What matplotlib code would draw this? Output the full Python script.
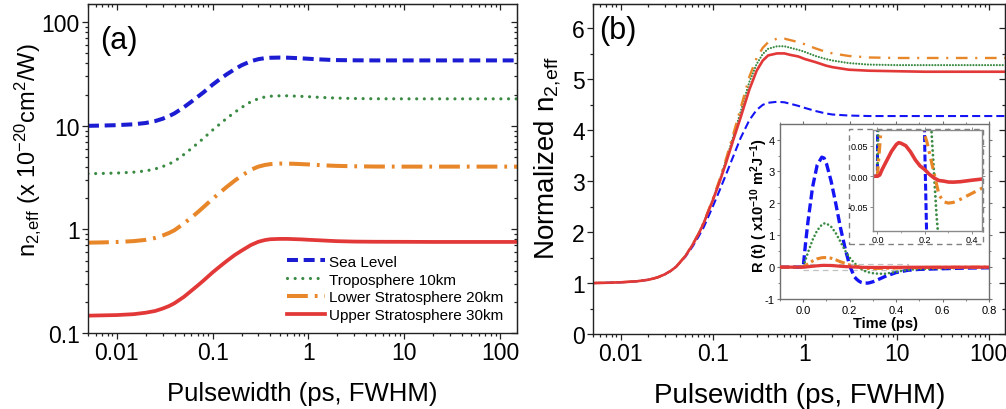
import matplotlib
matplotlib.use("Agg")
import matplotlib.pyplot as plt
from matplotlib.patches import Rectangle
from matplotlib.ticker import (LogLocator, MultipleLocator, NullFormatter,
                               FormatStrFormatter)

plt.rcParams['font.family'] = ['Liberation Sans', 'DejaVu Sans']
plt.rcParams['mathtext.fontset'] = 'custom'
plt.rcParams['mathtext.rm'] = 'Liberation Sans'
plt.rcParams['mathtext.it'] = 'Liberation Sans:italic'
plt.rcParams['mathtext.bf'] = 'Liberation Sans:bold'
plt.rcParams['axes.unicode_minus'] = False
plt.rcParams['lines.scale_dashes'] = False

# ---------------- data ----------------
labels = ["Sea Level", "Troposphere 10km", "Lower Stratosphere 20km",
          "Upper Stratosphere 30km"]

pulsewidth = [0.005, 0.007, 0.01, 0.015, 0.02, 0.025, 0.03, 0.035, 0.04,
              0.05, 0.06, 0.07, 0.08, 0.1, 0.12, 0.14, 0.17, 0.2, 0.25, 0.3,
              0.35, 0.4, 0.5, 0.6, 0.7, 0.85, 1, 1.3, 1.7, 2, 3, 5, 10, 20,
              50, 150]

# effective n2 (x1e-20 cm^2/W)
n2_sea = [10.0, 10.06, 10.15, 10.35, 10.65, 11.1, 11.7, 12.4, 13.2, 15.1,
          17.1, 19.1, 21.0, 25.0, 28.4, 31.4, 35.2, 38.4, 42.0, 44.0, 45.0,
          45.4, 45.6, 45.5, 45.2, 44.8, 44.4, 43.8, 43.3, 43.1, 42.9, 42.8,
          42.8, 42.8, 42.8, 42.8]
n2_tropo = [3.45, 3.47, 3.50, 3.57, 3.67, 3.83, 4.04, 4.28, 4.55, 5.28,
            6.04, 6.80, 7.56, 9.11, 10.49, 11.80, 13.52, 15.01, 17.08, 18.29,
            18.98, 19.32, 19.49, 19.49, 19.39, 19.25, 19.11, 18.84, 18.63,
            18.53, 18.35, 18.25, 18.22, 18.22, 18.22, 18.22]
n2_lower = [0.745, 0.749, 0.756, 0.771, 0.793, 0.827, 0.872, 0.924, 0.983,
            1.140, 1.304, 1.468, 1.639, 1.974, 2.280, 2.570, 2.958, 3.293,
            3.762, 4.038, 4.187, 4.269, 4.321, 4.321, 4.299, 4.269, 4.239,
            4.179, 4.127, 4.105, 4.068, 4.045, 4.038, 4.038, 4.038, 4.038]
n2_upper = [0.147, 0.148, 0.149, 0.152, 0.157, 0.163, 0.172, 0.182, 0.194,
            0.223, 0.256, 0.288, 0.320, 0.385, 0.442, 0.495, 0.566, 0.623,
            0.706, 0.760, 0.789, 0.804, 0.810, 0.810, 0.806, 0.801, 0.794,
            0.785, 0.775, 0.770, 0.763, 0.760, 0.759, 0.757, 0.757, 0.757]

# normalized n2,eff
norm_sea = [1.0, 1.006, 1.015, 1.035, 1.065, 1.11, 1.17, 1.24, 1.32, 1.51,
            1.71, 1.91, 2.1, 2.5, 2.84, 3.14, 3.52, 3.84, 4.2, 4.4, 4.5,
            4.54, 4.56, 4.55, 4.52, 4.48, 4.44, 4.38, 4.33, 4.31, 4.29, 4.28,
            4.28, 4.28, 4.28, 4.28]
norm_tropo = [1.0, 1.006, 1.015, 1.035, 1.065, 1.11, 1.17, 1.24, 1.32, 1.53,
              1.75, 1.97, 2.19, 2.64, 3.04, 3.42, 3.92, 4.35, 4.95, 5.3, 5.5,
              5.6, 5.65, 5.65, 5.62, 5.58, 5.54, 5.46, 5.4, 5.37, 5.32, 5.29,
              5.28, 5.28, 5.28, 5.28]
norm_lower = [1.0, 1.006, 1.015, 1.035, 1.065, 1.11, 1.17, 1.24, 1.32, 1.53,
              1.75, 1.97, 2.2, 2.65, 3.06, 3.45, 3.97, 4.42, 5.05, 5.42, 5.62,
              5.73, 5.8, 5.8, 5.77, 5.73, 5.69, 5.61, 5.54, 5.51, 5.46, 5.43,
              5.42, 5.42, 5.42, 5.42]
norm_upper = [1.0, 1.006, 1.015, 1.035, 1.065, 1.11, 1.17, 1.24, 1.32, 1.52,
              1.74, 1.96, 2.18, 2.62, 3.01, 3.37, 3.85, 4.24, 4.8, 5.17, 5.37,
              5.47, 5.51, 5.51, 5.48, 5.45, 5.40, 5.34, 5.27, 5.24, 5.19, 5.17,
              5.16, 5.15, 5.15, 5.15]

# Raman response R(t) (x1e-10 m^2/J)
time_ps = [-0.1, 0.0, 0.01, 0.02, 0.04, 0.06, 0.08, 0.09, 0.10, 0.12, 0.14,
           0.16, 0.18, 0.20, 0.21, 0.22, 0.23, 0.24, 0.25, 0.26, 0.28, 0.30,
           0.32, 0.35, 0.40, 0.45, 0.50, 0.60, 0.70, 0.80]
r_sea = [0.0, 0.0, 0.75, 1.4, 2.5, 3.2, 3.45, 3.42, 3.25, 2.7, 2.0, 1.25,
         0.6, 0.05, -0.13, -0.3, -0.38, -0.44, -0.48, -0.5, -0.5, -0.46,
         -0.4, -0.3, -0.17, -0.1, -0.07, -0.05, -0.03, -0.02]
r_tropo = [0.0, 0.0, 0.23, 0.45, 0.85, 1.15, 1.33, 1.37, 1.37, 1.27, 1.07,
           0.8, 0.52, 0.3, 0.21, 0.13, 0.065, 0.0, -0.065, -0.11, -0.16,
           -0.19, -0.205, -0.21, -0.15, -0.085, -0.06, -0.04, -0.02, -0.01]
r_lower = [0.0, 0.0, 0.05, 0.1, 0.19, 0.26, 0.295, 0.3, 0.3, 0.28, 0.23,
           0.17, 0.12, 0.068, 0.055, 0.038, 0.021, 0.004, -0.013, -0.03,
           -0.042, -0.044, -0.043, -0.038, -0.028, -0.018, -0.012, -0.006,
           -0.003, -0.002]
r_upper = [0.0, 0.0, 0.002, 0.011, 0.026, 0.041, 0.052, 0.055, 0.054, 0.05,
           0.04, 0.027, 0.017, 0.011, 0.007, 0.003, 0.0, -0.003, -0.005,
           -0.007, -0.008, -0.0095, -0.0097, -0.009, -0.0065, -0.0043,
           -0.003, -0.002, -0.001, 0.0]

c_blue_a = '#1c1cd2'
c_blue = '#1414f4'
c_green = '#3b8b45'
c_orange = '#e8872a'
c_red = '#e23838'
spine_c = '#222222'

W, H = 1006, 410
fig = plt.figure(figsize=(W / 100, H / 100), dpi=100)


def frac(x0, y0, x1, y1):
    return [x0 / W, 1 - y1 / H, (x1 - x0) / W, (y1 - y0) / H]


def style_main(ax, log_y):
    for s in ax.spines.values():
        s.set_color(spine_c)
        s.set_linewidth(1.0)
    ax.tick_params(which='both', direction='out', top=False, right=False,
                   color=spine_c, width=0.9, labelsize=16.5, pad=2)
    ax.tick_params(which='major', length=4)
    ax.tick_params(which='minor', length=2.3)
    top = ax.secondary_xaxis('top')
    top.set_xticks(ax.get_xticks())
    top.xaxis.set_minor_locator(LogLocator(base=10, subs=range(2, 10), numticks=20))
    top.xaxis.set_major_formatter(NullFormatter())
    top.xaxis.set_minor_formatter(NullFormatter())
    top.tick_params(which='both', direction='in', color=spine_c, width=0.9)
    top.tick_params(which='major', length=4)
    top.tick_params(which='minor', length=2.3)
    top.spines['top'].set_color(spine_c)
    right = ax.secondary_yaxis('right')
    right.set_yticks(ax.get_yticks())
    if log_y:
        right.yaxis.set_minor_locator(LogLocator(base=10, subs=range(2, 10), numticks=20))
    else:
        right.yaxis.set_minor_locator(MultipleLocator(0.5))
    right.yaxis.set_major_formatter(NullFormatter())
    right.yaxis.set_minor_formatter(NullFormatter())
    right.tick_params(which='both', direction='in', color=spine_c, width=0.9)
    right.tick_params(which='major', length=4)
    right.tick_params(which='minor', length=2.3)
    right.spines['right'].set_color(spine_c)


# ---------------- panel (a) ----------------
ax_a = fig.add_axes(frac(88, 5, 517, 334))
ax_a.plot(pulsewidth, n2_sea, color=c_blue_a, lw=2.9, ls=(0, (7.9, 4.1)),
          label=labels[0])
ax_a.plot(pulsewidth, n2_tropo, color=c_green, lw=2.3, ls=(0, (0.01, 5.5)),
          dash_capstyle='round', label=labels[1])
ax_a.plot(pulsewidth, n2_lower, color=c_orange, lw=2.9,
          ls=(0, (15, 5, 2, 5)), label=labels[2])
ax_a.plot(pulsewidth, n2_upper, color=c_red, lw=2.7, label=labels[3])
ax_a.set_xscale('log')
ax_a.set_yscale('log')
ax_a.set_xlim(0.005, 150)
ax_a.set_ylim(0.1, 150)
ax_a.set_xticks([0.01, 0.1, 1, 10, 100], ['0.01', '0.1', '1', '10', '100'])
ax_a.set_yticks([0.1, 1, 10, 100], ['0.1', '1', '10', '100'])
ax_a.xaxis.set_minor_locator(LogLocator(base=10, subs=range(2, 10), numticks=20))
ax_a.yaxis.set_minor_locator(LogLocator(base=10, subs=range(2, 10), numticks=20))
ax_a.xaxis.set_minor_formatter(NullFormatter())
ax_a.yaxis.set_minor_formatter(NullFormatter())
style_main(ax_a, True)
ax_a.set_xlabel('Pulsewidth (ps, FWHM)', fontsize=18.5)
ax_a.xaxis.set_label_coords(0.5, -0.145)
ax_a.set_ylabel(r'n$_{2,\!\mathrm{eff}}$ (x 10$^{-20}$cm$^2$/W)', fontsize=17)
ax_a.yaxis.set_label_coords(-0.105, 0.56)
ax_a.text(0.028, 0.892, '(a)', transform=ax_a.transAxes, fontsize=22,
          ha='left', va='center')
ax_a.legend(loc='upper left', bbox_to_anchor=(0.464, 0.238), frameon=False,
            fontsize=11, handlelength=2.5, handletextpad=0.25,
            labelspacing=0.25, borderpad=0, borderaxespad=0)

# ---------------- panel (b) ----------------
ax_b = fig.add_axes(frac(593, 5, 1005, 335))
ax_b.plot(pulsewidth, norm_sea, color=c_blue, lw=1.5, ls=(0, (5.8, 2.9)))
ax_b.plot(pulsewidth, norm_tropo, color=c_green, lw=1.6, ls=(0, (0.01, 2.1)),
          dash_capstyle='round')
ax_b.plot(pulsewidth, norm_lower, color=c_orange, lw=1.7,
          ls=(0, (8.4, 5.5, 1.5, 5.5)))
ax_b.plot(pulsewidth, norm_upper, color=c_red, lw=1.9)
ax_b.set_xscale('log')
ax_b.set_xlim(0.005, 150)
ax_b.set_ylim(0, 6.48)
ax_b.set_xticks([0.01, 0.1, 1, 10, 100], ['0.01', '0.1', '1', '10', '100'])
ax_b.set_yticks(range(0, 7))
ax_b.xaxis.set_minor_locator(LogLocator(base=10, subs=range(2, 10), numticks=20))
ax_b.xaxis.set_minor_formatter(NullFormatter())
ax_b.yaxis.set_minor_locator(MultipleLocator(0.5))
style_main(ax_b, False)
ax_b.set_xlabel('Pulsewidth (ps, FWHM)', fontsize=20)
ax_b.xaxis.set_label_coords(0.502, -0.145)
ax_b.set_ylabel(r'Normalized n$_{2,\!\mathrm{eff}}$', fontsize=20)
ax_b.yaxis.set_label_coords(-0.073, 0.535)
ax_b.text(0.015, 0.921, '(b)', transform=ax_b.transAxes, fontsize=22,
          ha='left', va='center')

# ---------------- inset: R(t) ----------------
frame_c = '#707070'
ins = fig.add_axes(frac(780, 125, 989, 300))
ins.add_patch(Rectangle((0.0, -0.09), 0.45, 0.2, fill=False, ls=(0, (4, 3)),
                        lw=0.9, ec='#c0c0c0', zorder=1))
ins.plot(time_ps, r_sea, color=c_blue, lw=2.4, ls=(0, (6.5, 2.9)), zorder=2)
ins.plot(time_ps, r_tropo, color=c_green, lw=1.9, ls=(0, (0.01, 2.9)),
         dash_capstyle='round', zorder=3)
ins.plot(time_ps, r_lower, color=c_orange, lw=2.2, ls=(0, (7, 2.5, 2, 2.5)),
         zorder=4)
ins.plot(time_ps, r_upper, color=c_red, lw=2.3, zorder=5)
ins.set_xlim(-0.1, 0.8)
ins.set_ylim(-1, 4.49)
ins.set_xticks([0.0, 0.2, 0.4, 0.6, 0.8])
ins.xaxis.set_major_formatter(FormatStrFormatter('%.1f'))
ins.set_yticks([-1, 0, 1, 2, 3, 4])
ins.xaxis.set_minor_locator(MultipleLocator(0.1))
ins.yaxis.set_minor_locator(MultipleLocator(0.5))
for s in ins.spines.values():
    s.set_color(frame_c)
    s.set_linewidth(1.0)
ins.tick_params(which='both', direction='out', color=frame_c, labelsize=8,
                pad=1.5, top=True, right=True)
ins.tick_params(which='major', length=2.5, width=0.8)
ins.tick_params(which='minor', length=1.5, width=0.6)
ins.set_xlabel('Time (ps)', fontsize=10.5, fontweight='bold')
ins.xaxis.set_label_coords(0.505, -0.095)
ins.set_ylabel(r'$\mathbf{R\ (t)\ (\ x10^{-10}\ m^{2}J^{-1})}$', fontsize=10.5)
ins.yaxis.set_label_coords(-0.05, 0.538)
ins.add_patch(Rectangle((0.330, 0.314), 0.641, 0.655, transform=ins.transAxes,
                        fill=False, ls=(0, (4, 3)), lw=1.0, ec='#808080',
                        clip_on=False, zorder=6))

# ---------------- zoomed view near zero ----------------
sub = fig.add_axes(frac(873, 130.5, 982, 232))
sub.plot(time_ps, r_sea, color=c_blue, lw=2.2, ls=(0, (5, 2)))
sub.plot(time_ps, r_tropo, color=c_green, lw=2.1, ls=(0, (0.01, 3.3)),
         dash_capstyle='round')
sub.plot(time_ps, r_lower, color=c_orange, lw=2.3, ls=(0, (7.5, 3.6, 2, 3.6)))
sub.plot(time_ps, r_upper, color=c_red, lw=2.6)
sub.set_xlim(-0.0185, 0.442)
sub.set_ylim(-0.0898, 0.0766)
sub.set_xticks([0.0, 0.2, 0.4])
sub.xaxis.set_major_formatter(FormatStrFormatter('%.1f'))
sub.set_yticks([-0.05, 0.0, 0.05])
sub.yaxis.set_major_formatter(FormatStrFormatter('%.2f'))
sub.xaxis.set_minor_locator(MultipleLocator(0.1))
for s in sub.spines.values():
    s.set_color('#8a8a8a')
    s.set_linewidth(1.0)
sub.tick_params(which='both', direction='out', color='#8a8a8a', labelsize=6.5,
                pad=1, top=True, right=True)
sub.tick_params(which='major', length=2.2, width=0.7)
sub.tick_params(which='minor', length=1.3, width=0.5)

fig.savefig('out.png', dpi=100, facecolor='white')
